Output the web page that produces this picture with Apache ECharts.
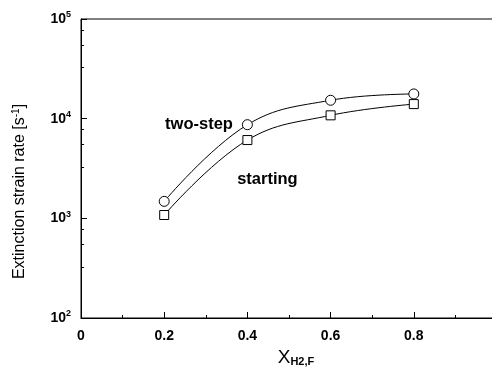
<!DOCTYPE html>
<html>
<head>
<meta charset="utf-8">
<script src="https://cdn.jsdelivr.net/npm/echarts@6/dist/echarts.min.js"></script>
<style>html,body{margin:0;padding:0;background:#fff}#c{width:492px;height:375px}</style>
</head>
<body>
<div id="c"></div>
<script>
var xValues = [0.2, 0.4, 0.6, 0.8];
var twoStep = [1480, 8700, 15300, 17700];
var starting = [1080, 6100, 10800, 14000];
var xTicks = [0, 0.2, 0.4, 0.6, 0.8];
var yTickExp = [2, 3, 4, 5];
var seriesNames = ['two-step', 'starting'];

var FONT = 'Liberation Sans';
function pairs(ys) { return xValues.map(function (x, i) { return [x, ys[i]]; }); }

var tsData = pairs(twoStep).map(function (p, i) {
  if (i === 1) return { value: p, label: { show: true, formatter: seriesNames[0], position: 'left', distance: 9, color: '#000', fontFamily: FONT, fontSize: 16.5, fontWeight: 'bold' } };
  return p;
});
var stData = pairs(starting).map(function (p, i) {
  if (i === 1) return { value: p, label: { show: true, formatter: seriesNames[1], position: 'bottom', distance: 5, offset: [20, 21], color: '#000', fontFamily: FONT, fontSize: 16.5, fontWeight: 'bold' } };
  return p;
});

var chart = echarts.init(document.getElementById('c'), null, { renderer: 'canvas' });
chart.setOption({
  animation: false,
  backgroundColor: '#fff',
  grid: { left: 81, top: 19, height: 299, width: 416, containLabel: false, outerBoundsMode: 'none', show: true, borderColor: '#000', borderWidth: 1 },
  xAxis: {
    type: 'value', min: 0, max: 1, interval: 0.2,
    name: 'X{sub|H2,F}', nameLocation: 'middle', nameGap: 26,
    nameTextStyle: { color: '#000', fontFamily: FONT, fontSize: 19, padding: [0, 0, 0, 14],
      rich: { sub: { fontSize: 11, fontWeight: 'bold', fontFamily: FONT, color: '#000', verticalAlign: 'bottom', padding: [10, 0, 0, 0] } } },
    axisLine: { lineStyle: { color: '#000', width: 1 } },
    axisTick: { inside: true, length: 6, lineStyle: { color: '#000' } },
    minorTick: { show: true, splitNumber: 2, length: 3, lineStyle: { color: '#000' } },
    splitLine: { show: false },
    axisLabel: { color: '#000', fontFamily: FONT, fontSize: 14, fontWeight: 'bold', margin: 11,
      formatter: function (v) { var r = Math.round(v * 10) / 10; return xTicks.indexOf(r) >= 0 ? String(r) : ''; } }
  },
  yAxis: {
    type: 'log', logBase: 10, min: Math.pow(10, yTickExp[0]), max: Math.pow(10, yTickExp[yTickExp.length - 1]),
    name: 'Extinction strain rate [s{sup|-1}]', nameLocation: 'middle', nameGap: 52,
    nameTextStyle: { color: '#000', fontFamily: FONT, fontSize: 16, padding: [0, 46, 0, 0],
      rich: { sup: { fontSize: 10, fontFamily: FONT, color: '#000', verticalAlign: 'top', padding: [0, 0, 8, 0] } } },
    axisLine: { lineStyle: { color: '#000', width: 1 } },
    axisTick: { inside: true, length: 6, lineStyle: { color: '#000' } },
    minorTick: { show: true, splitNumber: 4, length: 3, lineStyle: { color: '#000' } },
    splitLine: { show: false },
    axisLabel: { color: '#000', fontFamily: FONT, fontSize: 14, fontWeight: 'bold', margin: 10,
      formatter: function (v) { var e = Math.round(Math.log10(v)); return yTickExp.indexOf(e) >= 0 ? '10{sup|' + e + '}' : ''; },
      rich: { sup: { fontSize: 9, fontFamily: FONT, color: '#000', verticalAlign: 'top', padding: [0, 0, 8, 0] } } }
  },
  series: [
    { name: seriesNames[0], type: 'line', data: tsData, smooth: 0.4, symbol: 'circle', symbolSize: 10,
      lineStyle: { color: '#000', width: 1 }, itemStyle: { color: '#fff', borderColor: '#000', borderWidth: 1 } },
    { name: seriesNames[1], type: 'line', data: stData, smooth: 0.4, symbol: 'rect', symbolSize: 9,
      lineStyle: { color: '#000', width: 1 }, itemStyle: { color: '#fff', borderColor: '#000', borderWidth: 1 } }
  ]
});
</script>
</body>
</html>
